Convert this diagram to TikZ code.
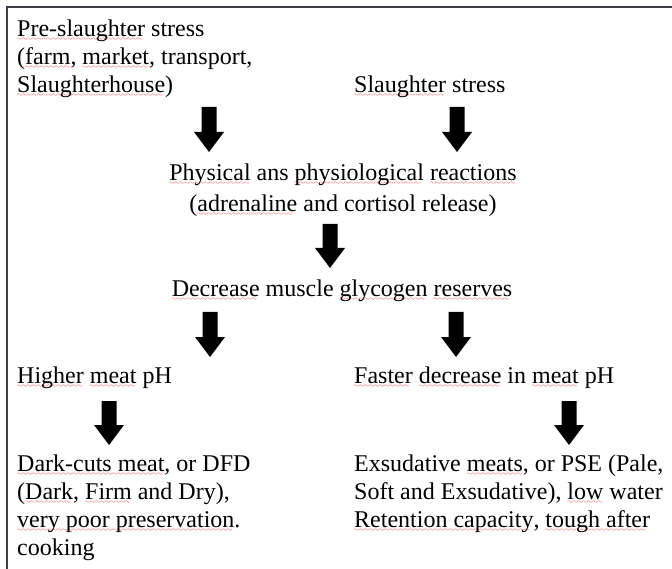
\documentclass[tikz,border=0pt]{standalone}
\usepackage{fontspec}
\setmainfont{Liberation Serif}
\usetikzlibrary{calc}
\font\sqwave=lasy6
\newcommand\sq[1]{\leavevmode\setbox0\hbox{#1}\rlap{\textcolor{red}{\lower4pt\hbox to\wd0{\leaders\hbox{\sqwave\char58}\hfill}}}\box0\relax}
\definecolor{framegray}{RGB}{60,64,68}
\tikzset{
  txt/.style={inner sep=0pt, font=\fontsize{24}{28}\selectfont, align=left},
  barrow/.style={fill=black},
  frameline/.style={draw=framegray, line width=2pt}
}
\newcommand\blockarrow[2]{%
  \fill[barrow] ($(#1)+(-7.5,0)$) -- ($(#1)+(7.5,0)$) -- ($(#2)+(7.5,-20)$) -- ($(#2)+(15,-20)$) -- (#2) -- ($(#2)+(-15,-20)$) -- ($(#2)+(-7.5,-20)$) -- cycle;}
\begin{document}
\begin{tikzpicture}[x=1pt,y=-1pt]
\useasboundingbox (0,0) rectangle (672,569);
\fill[white] (0,0) rectangle (672,569);
\draw[frameline] (672,7) -- (7,7) -- (7,569);

\node[txt, anchor=base west] (pre) at (17,93) {\sq{Pre-slaughter} stress\\(\sq{farm}, \sq{market}, transport,\\\sq{Slaughterhouse})};
\node[txt, anchor=base west] (sls) at (354,93) {\sq{Slaughter} stress};
\node[txt, anchor=base, align=center, font=\fontsize{24}{31}\selectfont] (phys) at (343,212) {\sq{Physical} ans \sq{physiological} \sq{reactions}\\(\sq{adrenaline} and cortisol release)};
\node[txt, anchor=base] (dec) at (342,297) {\sq{Decrease} muscle \sq{glycogen} \sq{reserves}};
\node[txt, anchor=base west] (hi) at (17,383) {\sq{Higher} \sq{meat} pH};
\node[txt, anchor=base west] (fa) at (354,383) {\sq{Faster} \sq{decrease} in \sq{meat} pH};
\node[txt, anchor=base west, font=\fontsize{24}{27.7}\selectfont] (dfd) at (17,555) {\sq{Dark-cuts meat}, or DFD\\(\sq{Dark}, \sq{Firm} and Dry),\\\sq{very poor preservation}.\\cooking};
\node[txt, anchor=base west, font=\fontsize{24}{27.7}\selectfont] (pse) at (354,527) {Exsudative \sq{meats}, or PSE (Pale,\\Soft and Exsudative), \sq{low} water\\\sq{Retention capacity}, \sq{tough after}};

\coordinate (a1s) at (209,107); \coordinate (a1e) at (209,152);
\coordinate (a2s) at (457,107); \coordinate (a2e) at (457,152);
\coordinate (a3s) at (330,224); \coordinate (a3e) at (330,268);
\coordinate (a4s) at (210,312); \coordinate (a4e) at (210,357);
\coordinate (a5s) at (456,312); \coordinate (a5e) at (456,357);
\coordinate (a6s) at (109,401); \coordinate (a6e) at (109,445);
\coordinate (a7s) at (569,401); \coordinate (a7e) at (569,445);
\blockarrow{a1s}{a1e}
\blockarrow{a2s}{a2e}
\blockarrow{a3s}{a3e}
\blockarrow{a4s}{a4e}
\blockarrow{a5s}{a5e}
\blockarrow{a6s}{a6e}
\blockarrow{a7s}{a7e}
\end{tikzpicture}
\end{document}
